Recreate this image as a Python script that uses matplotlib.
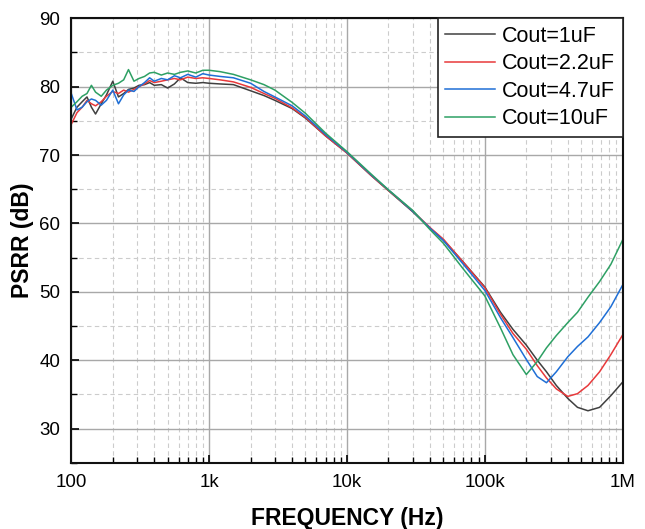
import matplotlib
matplotlib.use('Agg')
import matplotlib.pyplot as plt
from matplotlib.ticker import FixedLocator, LogLocator, NullFormatter, MultipleLocator

plt.rcParams['font.family'] = ['Liberation Sans', 'DejaVu Sans']

freq = [100, 110, 120, 130, 140, 150, 165, 180, 200, 220, 240, 260, 285, 310, 340,
        370, 400, 450, 500, 560, 620, 700, 800, 900, 1000, 1200, 1500, 2000, 2500,
        3000, 4000, 5000, 7000, 10000, 15000, 20000, 30000, 40000, 50000, 70000,
        100000, 130000, 160000, 200000, 240000, 280000, 330000, 400000, 470000,
        560000, 680000, 820000, 1000000]

psrr_1u = [75.3, 77.0, 77.8, 78.5, 77.0, 76.0, 77.5, 78.8, 80.8, 78.5, 79.0, 79.6, 79.8,
           80.2, 80.3, 80.6, 80.2, 80.3, 79.8, 80.4, 81.3, 80.6, 80.5, 80.6, 80.5, 80.4,
           80.3, 79.4, 78.7, 78.0, 76.8, 75.4, 72.8, 70.3, 67.0, 64.8, 61.7, 59.3, 57.6,
           54.3, 50.7, 47.0, 44.5, 42.2, 40.0, 38.3, 36.3, 34.4, 33.1, 32.6, 33.1, 34.8, 36.8]

psrr_2u2 = [74.5, 76.2, 77.0, 78.0, 77.5, 77.2, 77.8, 78.6, 79.3, 79.0, 79.5, 79.2, 79.6,
            80.0, 80.4, 80.9, 80.6, 80.8, 81.0, 81.2, 81.0, 81.4, 81.2, 81.3, 81.2, 81.0,
            80.7, 79.9, 79.0, 78.3, 76.9, 75.5, 72.8, 70.3, 67.0, 64.8, 61.8, 59.4, 57.7,
            54.3, 50.6, 46.7, 43.9, 41.6, 39.2, 37.4, 35.8, 34.7, 35.1, 36.3, 38.3, 40.8, 43.7]

psrr_4u7 = [79.0, 76.6, 77.0, 77.8, 78.2, 78.0, 77.3, 78.0, 79.5, 77.5, 78.8, 79.5, 79.3,
            80.0, 80.6, 81.3, 80.8, 81.2, 81.0, 81.6, 81.3, 81.8, 81.4, 81.9, 81.7, 81.5,
            81.3, 80.5, 79.3, 78.5, 77.2, 75.7, 73.0, 70.4, 67.1, 64.9, 61.8, 59.3, 57.5,
            54.0, 50.2, 46.2, 43.3, 40.1, 37.6, 36.7, 38.3, 40.5, 42.0, 43.4, 45.5, 47.8, 51.0]

psrr_10u = [77.0, 77.8, 78.6, 79.0, 80.2, 79.2, 78.6, 79.5, 80.2, 80.5, 81.0, 82.5, 80.8,
            81.2, 81.5, 82.0, 82.1, 81.7, 82.0, 81.8, 82.1, 82.3, 82.0, 82.4, 82.4, 82.2,
            81.8, 81.0, 80.3, 79.5, 77.7, 76.1, 73.2, 70.5, 67.2, 64.9, 61.9, 59.1, 57.1,
            53.3, 49.4, 44.7, 40.8, 37.9, 39.8, 41.8, 43.6, 45.5, 47.0, 49.2, 51.5, 54.0, 57.6]

labels = ['Cout=1uF', 'Cout=2.2uF', 'Cout=4.7uF', 'Cout=10uF']
colors = ['#404040', '#e8393b', '#1f6fd6', '#2ea064']

xticks = [100, 1000, 10000, 100000, 1000000]
xticklabels = ['100', '1k', '10k', '100k', '1M']

fig = plt.figure(figsize=(6.45, 5.29), dpi=100)
ax = fig.add_axes([0.1105, 0.1253, 0.8549, 0.8401])

for y, lab, c in zip([psrr_1u, psrr_2u2, psrr_4u7, psrr_10u], labels, colors):
    ax.plot(freq, y, color=c, lw=1.1, label=lab)

ax.set_xscale('log')
ax.set_xlim(100, 1e6)
ax.set_ylim(25, 90)
ax.xaxis.set_major_locator(FixedLocator(xticks))
ax.set_xticklabels(xticklabels)
ax.xaxis.set_minor_locator(LogLocator(base=10, subs=range(2, 10)))
ax.xaxis.set_minor_formatter(NullFormatter())
ax.yaxis.set_major_locator(MultipleLocator(10))
ax.yaxis.set_minor_locator(MultipleLocator(5))
ax.set_yticks([30, 40, 50, 60, 70, 80, 90])

ax.grid(which='major', color='#a8a8a8', lw=1.0, ls='-')
ax.grid(which='minor', color='#cccccc', lw=0.8, ls=(0, (4, 3)))
ax.set_axisbelow(True)

ax.tick_params(which='both', direction='in', labelsize=13.5, top=False, right=False)
ax.tick_params(which='major', length=6, width=1.2, pad=8)
ax.tick_params(which='minor', length=4, width=1.0)
for s in ax.spines.values():
    s.set_linewidth(1.5)
    s.set_color('#111111')

ax.set_xlabel('FREQUENCY (Hz)', fontsize=16.5, fontweight='bold', labelpad=12)
ax.set_ylabel('PSRR (dB)', fontsize=16.5, fontweight='bold', labelpad=4)

leg = ax.legend(loc='upper right', fontsize=15.5, frameon=True, fancybox=False,
                edgecolor='#222222', borderaxespad=0, handlelength=2.3,
                handletextpad=0.35, labelspacing=0.3, borderpad=0.35)
leg.get_frame().set_linewidth(1.2)
leg.get_frame().set_alpha(1)

fig.savefig('out.png', dpi=100)
